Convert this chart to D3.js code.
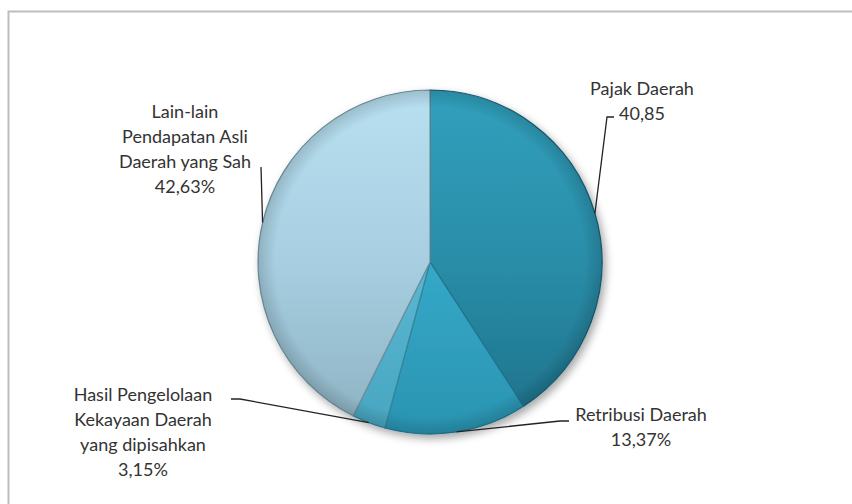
<!DOCTYPE html>
<html><head><meta charset="utf-8">
<script src="https://cdn.jsdelivr.net/npm/d3@7"></script>
<style>html,body{margin:0;padding:0;background:#fff;}svg{display:block;}</style>
</head><body>
<script>
const categories = ["Pajak Daerah", "Retribusi Daerah", "Hasil Pengelolaan Kekayaan Daerah yang dipisahkan", "Lain-lain Pendapatan Asli Daerah yang Sah"];
const values = [40.85, 13.37, 3.15, 42.63];
const labelLines = [
  ["Pajak Daerah", "40,85"],
  ["Retribusi Daerah", "13,37%"],
  ["Hasil Pengelolaan", "Kekayaan Daerah", "yang dipisahkan", "3,15%"],
  ["Lain-lain", "Pendapatan Asli", "Daerah yang Sah", "42,63%"]
];

const W = 852, H = 504;
const cx = 430, cy = 262, R = 172;
const svg = d3.select("body").append("svg").attr("width", W).attr("height", H);
const defs = svg.append("defs");

// frame
svg.append("rect").attr("x", 8.5).attr("y", 11.5).attr("width", 900).attr("height", 600)
  .attr("fill", "none").attr("stroke", "#bdbdbd").attr("stroke-width", 2);

const colorStops = [
  ["#31a0bd", "#2a8da8", "#1d7089"],
  ["#40b4d3", "#35a8c7", "#2a94b2"],
  ["#6ac3dc", "#5ab8d3", "#47a5c0"],
  ["#b8e0f1", "#a7cfe1", "#8cb1c1"]
];
colorStops.forEach((c, i) => {
  const g = defs.append("linearGradient").attr("id", "g" + i)
    .attr("gradientUnits", "userSpaceOnUse")
    .attr("x1", 0).attr("y1", -R).attr("x2", 0).attr("y2", R);
  g.append("stop").attr("offset", "0%").attr("stop-color", c[0]);
  g.append("stop").attr("offset", "50%").attr("stop-color", c[1]);
  g.append("stop").attr("offset", "100%").attr("stop-color", c[2]);
});
const rim = defs.append("radialGradient").attr("id", "rim")
  .attr("gradientUnits", "userSpaceOnUse").attr("cx", cx).attr("cy", cy).attr("r", R);
rim.append("stop").attr("offset", "0%").attr("stop-color", "#000").attr("stop-opacity", 0);
rim.append("stop").attr("offset", "90%").attr("stop-color", "#000").attr("stop-opacity", 0);
rim.append("stop").attr("offset", "100%").attr("stop-color", "#000").attr("stop-opacity", 0.15);

const sh = defs.append("filter").attr("id", "shadow").attr("x", "-20%").attr("y", "-20%").attr("width", "140%").attr("height", "140%");
sh.append("feGaussianBlur").attr("in", "SourceAlpha").attr("stdDeviation", 4);
sh.append("feOffset").attr("dx", 3).attr("dy", 4).attr("result", "b");
sh.append("feComponentTransfer").append("feFuncA").attr("type", "linear").attr("slope", 0.35);
const mg = sh.append("feMerge");
mg.append("feMergeNode");
mg.append("feMergeNode").attr("in", "SourceGraphic");

const pie = d3.pie().sort(null).value(d => d)(values);
const arc = d3.arc().innerRadius(0).outerRadius(R);

const pg = svg.append("g").attr("filter", "url(#shadow)");
pg.selectAll("path").data(pie).join("path")
  .attr("d", arc).attr("transform", `translate(${cx},${cy})`)
  .attr("fill", (d, i) => `url(#g${i})`)
  .attr("stroke", (d, i) => d3.color(colorStops[i][2]).darker(0.6))
  .attr("stroke-width", 1.2);
pg.append("circle").attr("cx", cx).attr("cy", cy).attr("r", R).attr("fill", "url(#rim)");

// leader lines & labels (layout positions)
const labelPos = [
  {x: 642, y: 95, path: (p) => [p, [607, 117], [614, 117]]},
  {x: 641, y: 421, path: (p) => [p, [560, 421], [569, 421]]},
  {x: 143, y: 401, path: (p) => [p, [240, 399], [231, 399]]},
  {x: 185, y: 118, path: (p) => [p, [261, 167]]}
];
const lh = 25;
pie.forEach((d, i) => {
  const a = (d.startAngle + d.endAngle) / 2;
  const p = [cx + R * Math.sin(a), cy - R * Math.cos(a)];
  svg.append("path").attr("d", d3.line()(labelPos[i].path(p)))
    .attr("fill", "none").attr("stroke", "#222").attr("stroke-width", 1.3);
  const t = svg.append("text").attr("text-anchor", "middle")
    .attr("font-family", "Lato, 'Open Sans', sans-serif").attr("font-size", 18).attr("fill", "#333");
  labelLines[i].forEach((s, j) => {
    t.append("tspan").attr("x", labelPos[i].x).attr("y", labelPos[i].y + j * lh).text(s);
  });
});
</script>
</body></html>
